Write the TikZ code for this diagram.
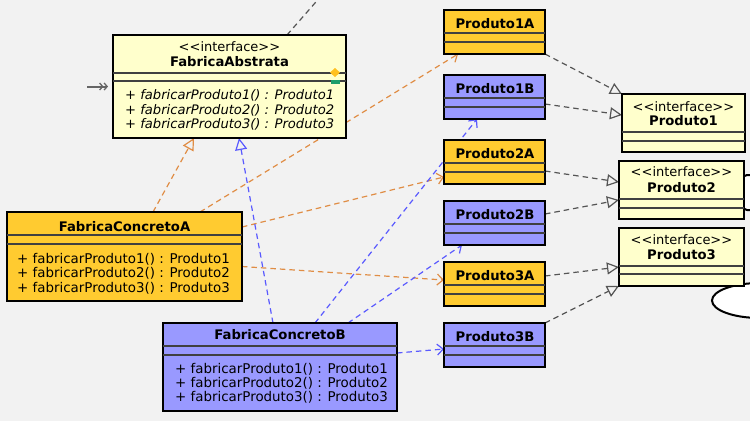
\documentclass[tikz,border=0pt]{standalone}
\usepackage{fontspec}
\setmainfont{DejaVu Sans}[ItalicFont={DejaVu Sans Oblique},BoldFont={DejaVu Sans Bold},BoldItalicFont={DejaVu Sans Bold Oblique}]
\usetikzlibrary{arrows.meta,calc}
\pgfdeclarelayer{back}\pgfdeclarelayer{bg}\pgfsetlayers{back,bg,main}
\definecolor{bgc}{HTML}{F2F2F2}
\definecolor{yel}{HTML}{FFFFCC}
\definecolor{ora}{HTML}{FFCB30}
\definecolor{blu}{HTML}{9999FF}
\definecolor{oline}{HTML}{E08D45}
\definecolor{bline}{HTML}{5A5AFF}
\definecolor{gline}{HTML}{555555}
\definecolor{dia}{HTML}{FFC020}
\definecolor{grn}{HTML}{1E9E6A}
\begin{document}
\begin{tikzpicture}[x=1pt,y=-1pt,
  font=\fontsize{13}{14.5}\selectfont,
  cls/.style={draw=black,line width=2.2pt,inner sep=0pt,outer sep=0pt,rectangle},
  sepl/.style={line width=1.2pt,draw=black!75},
  titl/.style={font=\fontsize{13.2}{14.5}\selectfont\bfseries,anchor=base,inner sep=0pt},
  ster/.style={anchor=base,inner sep=0pt},
  meth/.style={anchor=base west,inner sep=0pt,font=\fontsize{13.4}{14.5}\selectfont},
  imeth/.style={anchor=base west,inner sep=0pt,font=\fontsize{13.1}{14.5}\selectfont\itshape},
  conn/.style={line width=1.2pt,dash pattern=on 5.5pt off 4pt},
  real/.style={conn,-{Triangle[open,length=12pt,width=12pt,line width=1.2pt]}},
  dep/.style={conn,-{Straight Barb[length=6pt,width=11pt,line width=1.2pt]}}
]
\useasboundingbox (0,0) rectangle (750,421);
\begin{pgfonlayer}{back}
\fill[bgc] (0,0) rectangle (750,421);
\begin{scope}
\clip (0,0) rectangle (750,421);
\draw[fill=white,line width=2pt,rounded corners=5pt] (742,175) rectangle (800,210);
\draw[fill=white,line width=2pt] (760,300.5) ellipse [x radius=48pt,y radius=17.5pt];
\end{scope}
\end{pgfonlayer}

% FabricaAbstrata
\node[cls,fill=yel,minimum width=233pt,minimum height=103pt] (fa) at (229.5,86.5) {};
\draw[sepl] (113,73) -- (346,73);
\draw[sepl] (113,81) -- (346,81);
\node[ster] (fast) at (229.5,51.5) {<{}<interface>{}>};
\node[titl] (fatt) at (229.5,66.5) {FabricaAbstrata};
\node[imeth] (fam1) at (125,99.5) {+ fabricarProduto1() : Produto1};
\node[imeth] (fam2) at (125,114) {+ fabricarProduto2() : Produto2};
\node[imeth] (fam3) at (125,128.5) {+ fabricarProduto3() : Produto3};
\fill[dia] (335,68) -- (340,72.5) -- (335,77) -- (330,72.5) -- cycle;
\fill[grn] (330.5,80) rectangle (339.5,84);

% FabricaConcretoA
\node[cls,fill=ora,minimum width=235pt,minimum height=89pt] (fca) at (124.5,256.5) {};
\draw[sepl] (7,235) -- (242,235);
\draw[sepl] (7,244) -- (242,244);
\node[titl] (fcat) at (124.5,231) {FabricaConcretoA};
\node[meth] (fcam1) at (17,263.3) {+ fabricarProduto1() : Produto1};
\node[meth] (fcam2) at (17,277.7) {+ fabricarProduto2() : Produto2};
\node[meth] (fcam3) at (17,292) {+ fabricarProduto3() : Produto3};

% FabricaConcretoB
\node[cls,fill=blu,minimum width=234pt,minimum height=88pt] (fcb) at (280,367) {};
\draw[sepl] (163,346) -- (397,346);
\draw[sepl] (163,355) -- (397,355);
\node[titl] (fcbt) at (280,339.3) {FabricaConcretoB};
\node[meth] (fcbm1) at (175,373.3) {+ fabricarProduto1() : Produto1};
\node[meth] (fcbm2) at (175,387.7) {+ fabricarProduto2() : Produto2};
\node[meth] (fcbm3) at (175,401.7) {+ fabricarProduto3() : Produto3};

% Produtos concretos
\foreach \nm/\lab/\top/\col in {p1a/Produto1A/10/ora,p1b/Produto1B/75/blu,p2a/Produto2A/140/ora,p2b/Produto2B/201/blu,p3a/Produto3A/262/ora,p3b/Produto3B/323/blu}{
  \node[cls,fill=\col,minimum width=101pt,minimum height=44pt] (\nm) at (494.5,\top+22) {};
  \draw[sepl] (444,\top+23) -- (545,\top+23);
  \draw[sepl] (444,\top+32) -- (545,\top+32);
  \node[titl] (\nm t) at (495,\top+18.3) {\lab};
}

% Interfaces Produto
\node[cls,fill=yel,minimum width=123pt,minimum height=58pt] (pr1) at (683.5,123) {};
\draw[sepl] (622,132) -- (745,132);
\draw[sepl] (622,141) -- (745,141);
\node[ster] (pr1s) at (683.5,111) {<{}<interface>{}>};
\node[titl] (pr1t) at (683.5,125.3) {Produto1};

\node[cls,fill=yel,minimum width=125pt,minimum height=58pt] (pr2) at (681.5,190) {};
\draw[sepl] (619,199) -- (744,199);
\draw[sepl] (619,208) -- (744,208);
\node[ster] (pr2s) at (681.5,176.7) {<{}<interface>{}>};
\node[titl] (pr2t) at (681.5,192) {Produto2};

\node[cls,fill=yel,minimum width=125pt,minimum height=58pt] (pr3) at (681.5,257) {};
\draw[sepl] (619,266) -- (744,266);
\draw[sepl] (619,274) -- (744,274);
\node[ster] (pr3s) at (681.5,244.2) {<{}<interface>{}>};
\node[titl] (pr3t) at (681.5,259.5) {Produto3};

\coordinate (topend) at (322,-5);
\coordinate (lst) at (87,86.5);

\begin{pgfonlayer}{bg}
% gray realizations
\draw[real,gline] (p1a.south east) -- (pr1.north west);
\draw[real,gline] ($(p1b.east)+(0,7)$) -- ($(pr1.west)+(0,-8)$);
\draw[real,gline] ($(p2a.east)+(0,9)$) -- ($(pr2.west)+(0,-8)$);
\draw[real,gline] ($(p2b.east)+(0,-9)$) -- ($(pr2.west)+(0,10)$);
\draw[real,gline] ($(p3a.east)+(0,-8)$) -- ($(pr3.west)+(0,10)$);
\draw[real,gline] (p3b.north east) -- (pr3.south west);
\draw[conn,gline] ($(fa.north west)+(174,0)$) -- (topend);
% orange
\draw[real,oline] ($(fca.north west)+(146,0)$) -- ($(fa.south west)+(81,0)$);
\draw[dep,oline] ($(fca.north west)+(193,0)$) -- ($(p1a.south west)+(14,0)$);
\draw[dep,oline] ($(fca.north east)+(0,15)$) -- ($(p2a.west)+(0,15)$);
\draw[dep,oline] ($(fca.east)+(0,10)$) -- ($(p3a.west)+(0,-4)$);
% blue
\draw[real,bline] ($(fcb.north west)+(110,0)$) -- ($(fa.south west)+(126,0)$);
\draw[dep,bline] ($(fcb.north west)+(152,0)$) -- ($(p1b.south west)+(33,0)$);
\draw[dep,bline] ($(fcb.north west)+(185,0)$) -- ($(p2b.south west)+(18,0)$);
\draw[dep,bline] ($(fcb.east)+(0,-14)$) -- ($(p3b.west)+(0,4)$);
\end{pgfonlayer}

\draw[line width=2pt,draw=black!60,-{Straight Barb[length=3pt,width=7pt,line width=1.3pt] Straight Barb[length=3pt,width=7pt,line width=1.3pt]}] (lst) -- ($(fa.west)+(-5,0)$);
\end{tikzpicture}
\end{document}
